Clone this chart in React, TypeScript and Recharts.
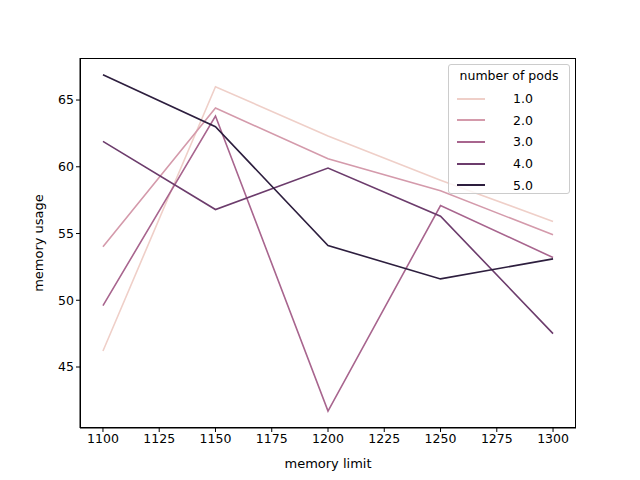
import React from 'react'
import { LineChart, Line, XAxis, YAxis, Label } from 'recharts'

const limits = [1100, 1150, 1200, 1250, 1300]
const pods1 = [46.2, 66.0, 62.3, 59.0, 55.9]
const pods2 = [54.0, 64.4, 60.6, 58.2, 54.9]
const pods3 = [49.6, 63.8, 41.7, 57.1, 53.2]
const pods4 = [61.9, 56.8, 59.9, 56.3, 47.5]
const pods5 = [66.9, 63.0, 54.1, 51.6, 53.1]
const podLabels = ['1.0', '2.0', '3.0', '4.0', '5.0']
const colors = ['#efcfc8', '#d49aab', '#a8658e', '#6c3c6c', '#2d1e3e']
const xTicks = [1100, 1125, 1150, 1175, 1200, 1225, 1250, 1275, 1300]
const yTicks = [45, 50, 55, 60, 65]

const series = [pods1, pods2, pods3, pods4, pods5]
const data = limits.map((l, i) => {
  const row: Record<string, number> = { limit: l }
  series.forEach((s, j) => { row['p' + j] = s[i] })
  return row
})

const font = 'DejaVu Sans, sans-serif'
const tick = { fill: '#000', fontSize: 12.5, fontFamily: font }

export default function App() {
  return (
    <div style={{ position: 'absolute', left: 0, top: 0, width: 640, height: 480, background: '#fff', fontFamily: font }}>
      <LineChart width={640} height={480} data={data} margin={{ top: 58, right: 64, left: 30, bottom: 0 }}>
        <XAxis dataKey="limit" type="number" domain={[1089.8, 1310.2]} ticks={xTicks} height={52}
          tick={tick} tickLine={{ stroke: '#000' }} tickSize={4} axisLine={{ stroke: '#000' }}>
          <Label value="memory limit" position="insideBottom" offset={12} style={{ fill: '#000', fontSize: 13, fontFamily: font }} />
        </XAxis>
        <YAxis type="number" domain={[40.43, 68.15]} ticks={yTicks} width={50} allowDataOverflow
          tick={tick} tickLine={{ stroke: '#000' }} tickSize={4} axisLine={{ stroke: '#000' }}>
          <Label value="memory usage" angle={-90} position="insideLeft" offset={8} style={{ fill: '#000', fontSize: 13, fontFamily: font, textAnchor: 'middle' }} />
        </YAxis>
        {series.map((_, j) => (
          <Line key={j} dataKey={'p' + j} stroke={colors[j]} strokeWidth={1.6} dot={false} isAnimationActive={false} />
        ))}
      </LineChart>
      <div style={{ position: 'absolute', left: 80, top: 58, width: 496, height: 370, border: '1px solid #000', boxSizing: 'border-box', pointerEvents: 'none' }} />
      <div style={{ position: 'absolute', left: 448, top: 64, width: 122, height: 130, border: '1px solid #ccc', borderRadius: 3, background: 'rgba(255,255,255,0.8)', boxSizing: 'border-box', fontSize: 12.5 }}>
        <div style={{ textAlign: 'center', marginTop: 3, height: 20 }}>number of pods</div>
        {podLabels.map((p, j) => (
          <div key={p} style={{ display: 'flex', alignItems: 'center', height: 21.6 }}>
            <div style={{ marginLeft: 8, width: 28, height: 2, background: colors[j] }} />
            <span style={{ marginLeft: 28 }}>{p}</span>
          </div>
        ))}
      </div>
    </div>
  )
}
